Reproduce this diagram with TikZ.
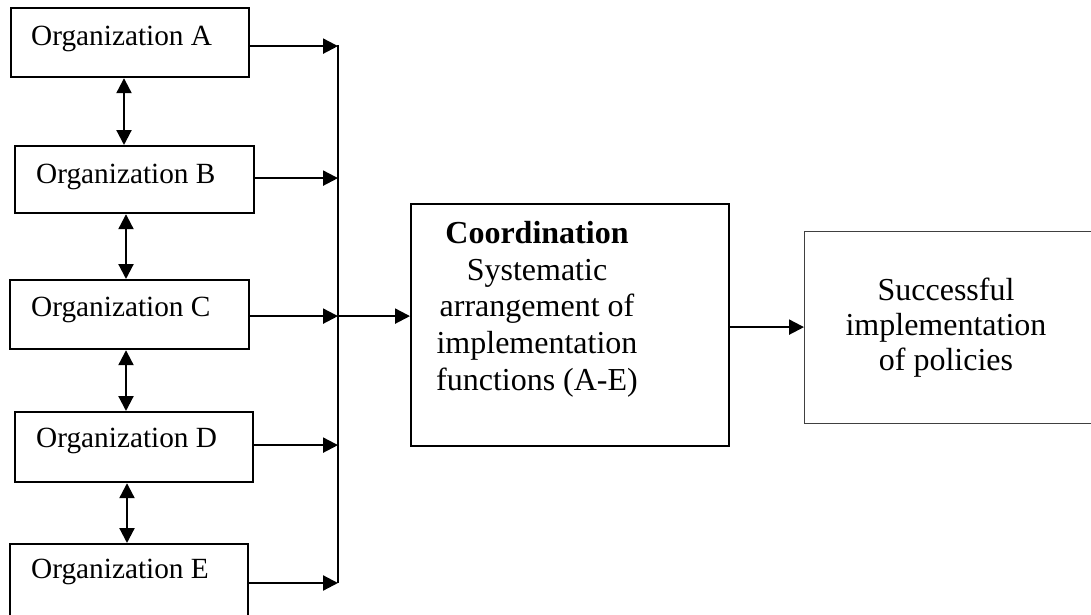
\documentclass[tikz,border=0pt]{standalone}
\usepackage{fontspec}
\setmainfont{Liberation Serif}
\usetikzlibrary{arrows.meta,calc}
\tikzset{
  orgbox/.style={draw, line width=2.2pt, anchor=north west, inner sep=0pt,
    minimum width=238pt, minimum height=69pt},
  label/.style={font=\fontsize{29.3}{34}\selectfont, inner sep=0pt},
  biglabel/.style={font=\fontsize{32}{36.75}\selectfont, inner sep=0pt, align=center, anchor=north},
  tip/.tip={Triangle[length=15pt,width=15pt]},
  flow/.style={line width=2.2pt, -tip},
  twoway/.style={line width=2.2pt, tip-tip}
}
\begin{document}
\begin{tikzpicture}[x=1pt,y=-1pt]
\useasboundingbox (0,0) rectangle (1091,615);
\clip (0,0) rectangle (1091,615);

% organization boxes
\node[orgbox] (A) at (10,7) {};
\node[orgbox, minimum width=239pt, minimum height=67pt] (B) at (14,145) {};
\node[orgbox, minimum width=239pt] (C) at (9,279) {};
\node[orgbox, minimum width=238pt, minimum height=70pt] (D) at (14,411) {};
\node[orgbox, minimum height=90pt] (E) at (9,543) {};

\node[label, anchor=base west] (tA) at (31,46) {Organization A};
\node[label, anchor=base west] (tB) at (36,183) {Organization B};
\node[label, anchor=base west] (tC) at (31,316) {Organization C};
\node[label, anchor=base west] (tD) at (36,447) {Organization D};
\node[label, anchor=base west] (tE) at (31,578) {Organization E};

% coordination and outcome boxes
\node[draw, line width=2.2pt, anchor=north west, inner sep=0pt,
  minimum width=318pt, minimum height=242pt] (coord) at (410,203) {};
\node[biglabel] (tcoord) at (537,221)
  {\textbf{Coordination}\\Systematic\\arrangement of\\implementation\\functions (A-E)};

\node[draw, line width=1.2pt, draw=black!75, anchor=north west, inner sep=0pt,
  minimum width=300pt, minimum height=192pt] (succ) at (804,231) {};
\node[biglabel, font=\fontsize{32}{35}\selectfont] (tsucc) at (946,278)
  {Successful\\implementation\\of policies};

% collecting bus
\coordinate (busTop) at (338,45);
\coordinate (busBot) at (338,583);
\draw[line width=2.2pt] (busTop) -- (busBot);

% outlets of the organization boxes
\coordinate (oA) at ($(A.east)+(0,3.5)$);
\coordinate (oB) at ($(B.east)+(0,-1.5)$);
\coordinate (oC) at ($(C.east)+(0,1.5)$);
\coordinate (oD) at ($(D.east)+(0,-2)$);
\coordinate (oE) at ($(E.north east)+(0,40)$);

\draw[flow] (oA) -- (oA -| busTop);
\draw[flow] (oB) -- (oB -| busTop);
\draw[flow] (oC) -- (oC -| busTop);
\draw[flow] (oD) -- (oD -| busTop);
\draw[flow] (oE) -- (oE -| busTop);

% links between neighbouring organizations
\draw[twoway] (A.south -| 124,0) -- (B.north -| 124,0);
\draw[twoway] (B.south -| 126,0) -- (C.north -| 126,0);
\draw[twoway] (C.south -| 126,0) -- (D.north -| 126,0);
\draw[twoway] (D.south -| 127,0) -- (E.north -| 127,0);

% bus to coordination, coordination to outcome
\coordinate (oCoord) at ($(coord.east)+(0,2)$);
\draw[flow] (oC -| busTop) -- (oC -| coord.west);
\draw[flow] (oCoord) -- (oCoord -| succ.west);
\end{tikzpicture}
\end{document}
